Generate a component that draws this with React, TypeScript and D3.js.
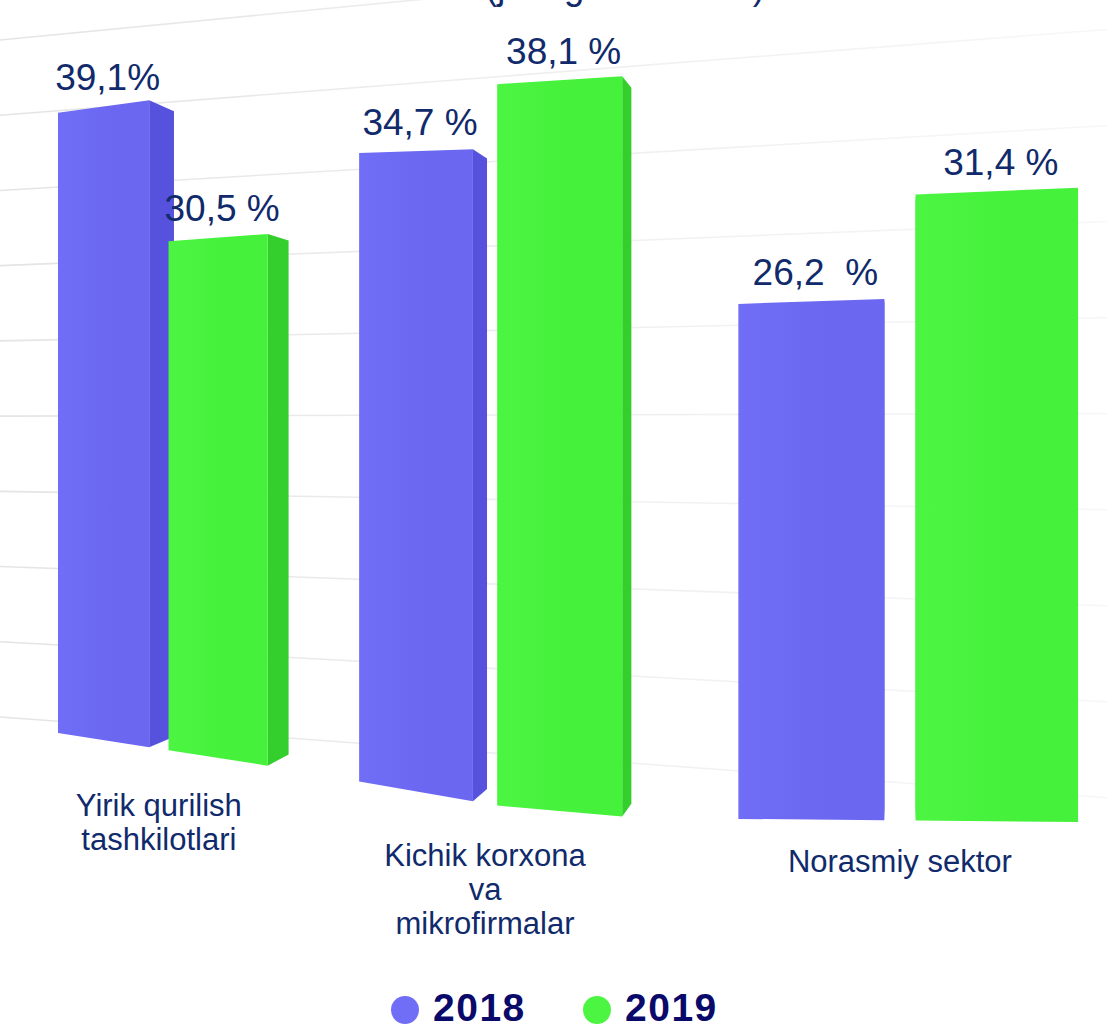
import React from 'react';
import * as d3 from 'd3';

// ---------- data ----------
const categoryKeys = ['yirik', 'kichik', 'norasmiy'];
const categoryLines: string[][] = [
  ['Yirik qurilish', 'tashkilotlari'],
  ['Kichik korxona', 'va', 'mikrofirmalar'],
  ['Norasmiy sektor'],
];
const seriesNames = ['2018', '2019'];
const values2018 = [39.1, 34.7, 26.2];
const values2019 = [30.5, 38.1, 31.4];
const labels2018 = ['39,1%', '34,7 %', '26,2  %'];
const labels2019 = ['30,5 %', '38,1 %', '31,4 %'];
const gridValues = [0, 5, 10, 15, 20, 25, 30, 35, 40, 45];
const titleText = '(jamiga nisbatan)';

// ---------- styling ----------
const W = 1107;
const H = 1025;
const TEXT = '#102a6b';
const FONT = '"Liberation Sans", Arial, Helvetica, sans-serif';
const colors: Record<string, { front: string; light: string; side: string }> = {
  '2018': { front: '#6b67f1', light: '#706df6', side: '#5652de' },
  '2019': { front: '#45f13b', light: '#4cf542', side: '#34cf2c' },
};

// ---------- perspective helpers ----------
const PX_A = 718.2, PX_B = 58, PX_C = -0.28;
const projX = (u: number) => (PX_A * u + PX_B) / (1 + PX_C * u);
const baseY = d3.scaleLinear().domain([58, 270, 500, 640, 1078]).range([733, 766, 806, 818, 822]);
const unitPx = d3.scaleLinear().domain([58, 357, 500, 640, 1078]).range([15.86, 18.1, 18.95, 19.5, 20.2]);
const VP = { x: 900, y: 430 };
const DEPTH_T = 0.033;
const toBack = (p: [number, number]): [number, number] => [
  VP.x + (p[0] - VP.x) * (1 - DEPTH_T),
  VP.y + (p[1] - VP.y) * (1 - DEPTH_T),
];
const GRID_VP = { x: -4000, y: 425 };
const gridBase = d3.scaleLinear().domain([0, 45]).range([717, 40]);

const groupBand = d3.scaleBand<string>().domain(categoryKeys).range([0, 1]).paddingInner(0.281).paddingOuter(0);
const seriesBand = d3.scaleBand<string>().domain(seriesNames).range([0, groupBand.bandwidth()]).paddingInner(0.169);

const topY = (x: number, v: number) => baseY(x) - v * unitPx(x);

type Bar = { key: string; group: string; series: string; value: number; label: string; xl: number; xr: number };

const bars: Bar[] = [];
categoryKeys.forEach((c, i) => {
  seriesNames.forEach((s) => {
    const u0 = (groupBand(c) ?? 0) + (seriesBand(s) ?? 0);
    const u1 = u0 + seriesBand.bandwidth();
    bars.push({
      key: c + s,
      group: c,
      series: s,
      value: s === '2018' ? values2018[i] : values2019[i],
      label: s === '2018' ? labels2018[i] : labels2019[i],
      xl: projX(u0),
      xr: projX(u1),
    });
  });
});

const poly = (pts: [number, number][]) => 'M' + pts.map((p) => p.join(',')).join('L') + 'Z';

export default function App() {
  const line = d3.line();
  return (
    <svg
      width={W}
      height={H}
      viewBox={`0 0 ${W} ${H}`}
      style={{ position: 'absolute', left: 0, top: 0, background: '#ffffff', fontFamily: FONT }}
    >
      <defs>
        {seriesNames.map((s) => (
          <linearGradient key={s} id={'g' + s} x1="0" x2="1" y1="0" y2="0">
            <stop offset="0" stopColor={colors[s].light} />
            <stop offset="0.6" stopColor={colors[s].front} />
            <stop offset="1" stopColor={colors[s].front} />
          </linearGradient>
        ))}
        <linearGradient id="gridFade" gradientUnits="userSpaceOnUse" x1="0" x2={W} y1="0" y2="0">
          <stop offset="0" stopColor="#e4e4e4" />
          <stop offset="0.5" stopColor="#efefef" />
          <stop offset="1" stopColor="#f7f7f7" />
        </linearGradient>
      </defs>
      <rect x={0} y={0} width={W} height={H} fill="#ffffff" />

      {/* back wall gridlines */}
      <g stroke="url(#gridFade)" strokeWidth={1.6} fill="none">
        {gridValues.map((v) => {
          const y0 = gridBase(v);
          const yAt = (x: number) => GRID_VP.y + ((y0 - GRID_VP.y) * (x - GRID_VP.x)) / (0 - GRID_VP.x);
          return <path key={v} d={line([[0, y0], [W, yAt(W)]]) ?? ''} />;
        })}
      </g>

      {/* title (clipped at top, as in the source) */}
      <text x={485} y={-1} fontSize={38} fill={TEXT} textLength={280} lengthAdjust="spacingAndGlyphs">
        {titleText}
      </text>

      {/* bars */}
      {bars.map((b) => {
        const ftl: [number, number] = [b.xl, topY(b.xl, b.value)];
        const ftr: [number, number] = [b.xr, topY(b.xr, b.value)];
        const fbr: [number, number] = [b.xr, baseY(b.xr)];
        const fbl: [number, number] = [b.xl, baseY(b.xl)];
        const btr = toBack(ftr);
        const bbr = toBack(fbr);
        const btl = toBack(ftl);
        const bbl = toBack(fbl);
        return (
          <g key={b.key}>
            {btr[0] > ftr[0] && <path d={poly([ftr, btr, bbr, fbr])} fill={colors[b.series].side} />}
            {btl[0] < ftl[0] && <path d={poly([ftl, btl, bbl, fbl])} fill={colors[b.series].side} />}
            <path d={poly([ftl, ftr, fbr, fbl])} fill={`url(#g${b.series})`} />
          </g>
        );
      })}

      {/* value labels */}
      {bars.map((b) => {
        const xc = (b.xl + b.xr) / 2 + 4;
        return (
          <text
            key={'l' + b.key}
            x={xc}
            y={topY(xc, b.value) - 16}
            fontSize={37}
            fill={TEXT}
            textAnchor="middle"
            style={{ whiteSpace: 'pre' }}
          >
            {b.label}
          </text>
        );
      })}

      {/* category labels */}
      {categoryKeys.map((c, i) => {
        const u0 = groupBand(c) ?? 0;
        const xc = projX(u0 + groupBand.bandwidth() / 2);
        const groupBars = bars.filter((b) => b.group === c);
        const maxBottom = d3.max(groupBars, (b) => Math.max(baseY(b.xl), baseY(b.xr))) ?? 0;
        return (
          <text key={'c' + c} x={xc} y={maxBottom + 50} fontSize={31} fill={TEXT} textAnchor="middle">
            {categoryLines[i].map((ln, j) => (
              <tspan key={j} x={xc} dy={j === 0 ? 0 : 34}>
                {ln}
              </tspan>
            ))}
          </text>
        );
      })}

      {/* legend */}
      <g>
        {seriesNames.map((s, i) => {
          const cx = 405 + i * 192;
          return (
            <g key={'lg' + s}>
              <circle cx={cx} cy={1010} r={14} fill={colors[s].light} />
              <text x={cx + 28} y={1021} fontSize={39} fontWeight="bold" fill="#0a0a6a" letterSpacing={1.5}>
                {s}
              </text>
            </g>
          );
        })}
      </g>
    </svg>
  );
}
